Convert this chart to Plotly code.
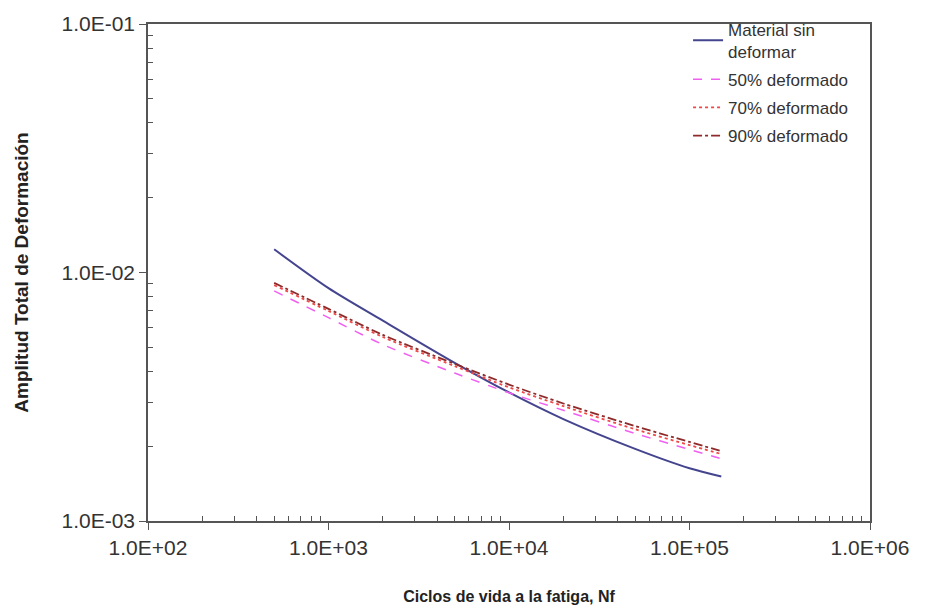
import plotly.graph_objects as go

ciclos = [500, 1000, 2000, 5000, 10000, 20000, 50000, 100000, 150000]
sin_deformar = [0.0124, 0.00865, 0.0064, 0.00433, 0.00329, 0.00257, 0.00195, 0.00163, 0.00151]
def_50 = [0.00843, 0.00658, 0.00513, 0.00394, 0.00328, 0.00279, 0.00225, 0.00194, 0.00178]
def_70 = [0.0089, 0.0070, 0.0055, 0.0042, 0.00345, 0.0029, 0.00234, 0.00202, 0.00186]
def_90 = [0.00908, 0.00714, 0.00561, 0.00429, 0.00354, 0.00297, 0.00241, 0.00208, 0.00191]

x_tickvals = [1e2, 1e3, 1e4, 1e5, 1e6]
x_ticktext = ["1.0E+02", "1.0E+03", "1.0E+04", "1.0E+05", "1.0E+06"]
y_tickvals = [1e-3, 1e-2, 1e-1]
y_ticktext = ["1.0E-03", "1.0E-02", "1.0E-01"]

def minor_vals(decades):
    return [d * dec for dec in decades for d in range(2, 10)]

series = [
    ("Material sin<br>deformar", sin_deformar, "#45458f", "solid", 2),
    ("50% deformado", def_50, "#f060f0", "dash", 1.5),
    ("70% deformado", def_70, "#f04848", "dot", 1.8),
    ("90% deformado", def_90, "#8e2a2a", "dashdot", 1.8),
]

fig = go.Figure()
for i, (name, vals, color, dash, w) in enumerate(series):
    fig.add_trace(go.Scatter(
        x=ciclos, y=vals, mode="lines", name=name, legendgroup=f"g{i}",
        line=dict(color=color, dash=dash, width=w, shape="spline", smoothing=0.8),
    ))

axis_common = dict(
    type="log", showgrid=False, zeroline=False, showline=True,
    linecolor="#555", linewidth=1.5, mirror=True,
    ticks="outside", ticklen=7, tickcolor="#555", tickwidth=1.2,
    tickfont=dict(family="Liberation Sans, Arial", size=21, color="#333"),
)

fig.update_layout(
    width=932, height=615,
    margin=dict(l=148, r=62, t=20, b=92),
    paper_bgcolor="white", plot_bgcolor="white",
    showlegend=True,
    legend=dict(
        x=0.748, y=1.025, xanchor="left", yanchor="top",
        bgcolor="rgba(0,0,0,0)", borderwidth=0,
        font=dict(family="Liberation Sans, Arial", size=17, color="#333"),
        tracegroupgap=3, itemwidth=30,
    ),
    xaxis=dict(
        range=[2, 6], tickvals=x_tickvals, ticktext=x_ticktext,
        minor=dict(tickmode="array", tickvals=minor_vals(x_tickvals[:-1]),
                   ticks="inside", ticklen=5, tickcolor="#555", tickwidth=1, showgrid=False),
        title=dict(text="<b>Ciclos de vida a la fatiga, Nf</b>",
                   font=dict(family="Liberation Sans, Arial", size=16, color="#222"),
                   standoff=33),
        **axis_common,
    ),
    yaxis=dict(
        range=[-3, -1], tickvals=y_tickvals, ticktext=y_ticktext,
        minor=dict(tickmode="array", tickvals=minor_vals(y_tickvals[:-1]),
                   ticks="inside", ticklen=5, tickcolor="#555", tickwidth=1, showgrid=False),
        title=dict(text="<b>Amplitud Total de Deformación</b>",
                   font=dict(family="Liberation Sans, Arial", size=19, color="#222"),
                   standoff=28),
        **axis_common,
    ),
)

fig.write_html("out.html")
